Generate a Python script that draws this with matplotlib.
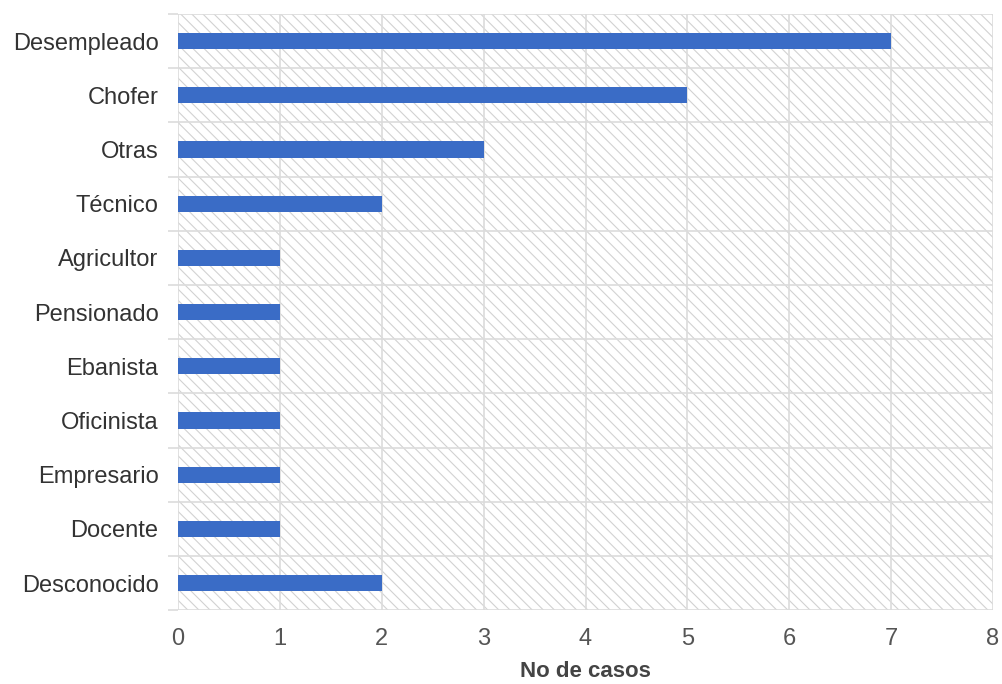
import matplotlib
matplotlib.use("Agg")
import matplotlib.pyplot as plt
from matplotlib.patches import Rectangle

categories = ["Desempleado", "Chofer", "Otras", "Técnico", "Agricultor", "Pensionado",
              "Ebanista", "Oficinista", "Empresario", "Docente", "Desconocido"]
values = [7, 5, 3, 2, 1, 1, 1, 1, 1, 1, 2]
xticks = [0, 1, 2, 3, 4, 5, 6, 7, 8]
xlabel = "No de casos"

plt.rcParams['font.family'] = ['Liberation Sans', 'DejaVu Sans']
plt.rcParams['hatch.color'] = '#d2d2d2'
plt.rcParams['hatch.linewidth'] = 0.8

fig = plt.figure(figsize=(10.03, 6.84), dpi=100)
ax = fig.add_axes([0.1775, 0.108, 0.8125, 0.8715])

n = len(categories)
ypos = list(range(n))
ax.barh(ypos, values, height=0.3, color='#3a6cc6', zorder=3)

ax.set_ylim(n - 0.5, -0.5)
ax.set_xlim(0, 8)

bg = Rectangle((0, 0), 1, 1, transform=ax.transAxes, facecolor='white',
               edgecolor='#d2d2d2', hatch='\\\\\\', linewidth=0, zorder=0)
ax.add_patch(bg)

ax.set_xticks(xticks)
ax.set_xticklabels([str(t) for t in xticks])
ax.set_yticks(ypos)
ax.set_yticklabels(categories)
ax.set_yticks([i - 0.5 for i in range(n + 1)], minor=True)

ax.grid(axis='x', which='major', color='#dcdcdc', linewidth=1.2, zorder=1)
ax.grid(axis='y', which='minor', color='#dcdcdc', linewidth=1.2, zorder=1)
ax.set_axisbelow(True)

for s in ax.spines.values():
    s.set_visible(False)

ax.tick_params(axis='y', which='major', length=0, pad=14, labelsize=17, labelcolor='#333333')
ax.tick_params(axis='y', which='minor', length=7, color='#dcdcdc', width=1.2)
ax.tick_params(axis='x', which='major', length=0, pad=13, labelsize=17, labelcolor='#555555')

ax.set_xlabel(xlabel, fontsize=16, fontweight='bold', color='#444444', labelpad=8)

fig.savefig("out.png", dpi=100, facecolor='white')
